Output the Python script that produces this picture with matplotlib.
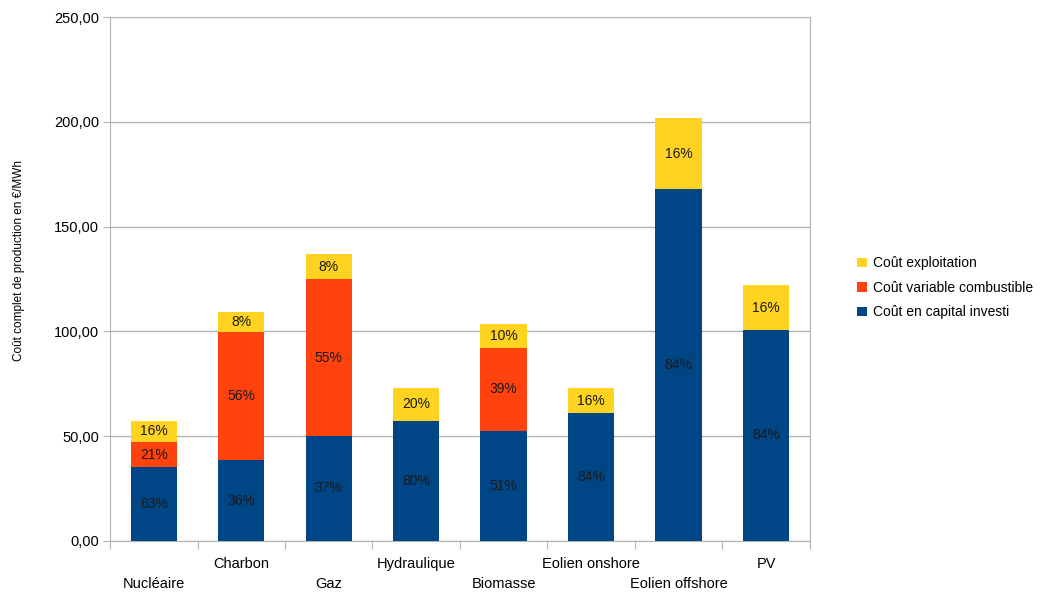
import matplotlib.pyplot as plt
import numpy as np

plt.rcParams["font.family"] = ["Liberation Sans", "DejaVu Sans"]

# ---------------------------------------------------------------------------
# Data (€/MWh)
# ---------------------------------------------------------------------------
categories = ["Nucléaire", "Charbon", "Gaz", "Hydraulique", "Biomasse",
              "Eolien onshore", "Eolien offshore", "PV"]
capital = [35.3, 38.6, 50.1, 57.4, 52.6, 60.9, 167.8, 100.7]
combustible = [11.9, 61.3, 74.8, 0.0, 39.6, 0.0, 0.0, 0.0]
exploitation = [10.1, 9.5, 12.0, 15.6, 11.3, 12.2, 33.9, 21.4]

capital_pct = ["63%", "36%", "37%", "80%", "51%", "84%", "84%", "84%"]
combustible_pct = ["21%", "56%", "55%", "", "39%", "", "", ""]
exploitation_pct = ["16%", "8%", "8%", "20%", "10%", "16%", "16%", "16%"]

y_ticks = [0, 50, 100, 150, 200, 250]

BLUE = "#004586"
ORANGE = "#ff420e"
YELLOW = "#ffd320"
GRID = "#b3b3b3"

fig = plt.figure(figsize=(10.53, 5.93), dpi=100)
ax = fig.add_axes([0.1045, 0.0877, 0.6645, 0.8836])

x = np.arange(len(categories))
width = 0.53

cap = np.array(capital)
comb = np.array(combustible)
expl = np.array(exploitation)

b1 = ax.bar(x, cap, width, color=BLUE, label="Coût en capital investi", zorder=3)
b2 = ax.bar(x, comb, width, bottom=cap, color=ORANGE,
            label="Coût variable combustible", zorder=3)
b3 = ax.bar(x, expl, width, bottom=cap + comb, color=YELLOW,
            label="Coût exploitation", zorder=3)

# percentage labels centred in each segment
for bars, labels in [(b1, capital_pct), (b2, combustible_pct), (b3, exploitation_pct)]:
    ax.bar_label(bars, labels=labels, label_type="center",
                 fontsize=10, color="#1a1a1a", zorder=4)

ax.set_xlim(-0.5, len(categories) - 0.5)
ax.set_ylim(0, 250)
ax.set_yticks(y_ticks)
ax.set_yticklabels([f"{v:.2f}".replace(".", ",") for v in y_ticks], fontsize=10.5)
ax.yaxis.grid(True, color=GRID, linewidth=1, zorder=0)
ax.tick_params(axis="y", length=5, color=GRID, pad=3)

# category ticks sit on the boundaries, labels staggered on two rows
ax.set_xticks(np.arange(len(categories) + 1) - 0.5)
ax.set_xticklabels([])
ax.tick_params(axis="x", length=6, color=GRID, direction="out")
for i, name in enumerate(categories):
    y_off = -0.069 if i % 2 == 0 else -0.031
    ax.text(i, y_off, name, transform=ax.get_xaxis_transform(),
            ha="center", va="top", fontsize=10.5)

for side in ["left", "bottom", "right"]:
    ax.spines[side].set_color(GRID)
ax.spines["top"].set_visible(False)

ax.set_ylabel("Coût complet de production en €/MWh", fontsize=8.5)
ax.yaxis.set_label_coords(-0.121, 0.535)

handles, lbls = ax.get_legend_handles_labels()
ax.legend(handles[::-1], lbls[::-1], loc="center left",
          bbox_to_anchor=(1.05, 0.483), frameon=False, fontsize=10,
          handlelength=0.7, handleheight=0.7, handletextpad=0.4,
          labelspacing=0.75)

fig.savefig("out.png", dpi=100)
